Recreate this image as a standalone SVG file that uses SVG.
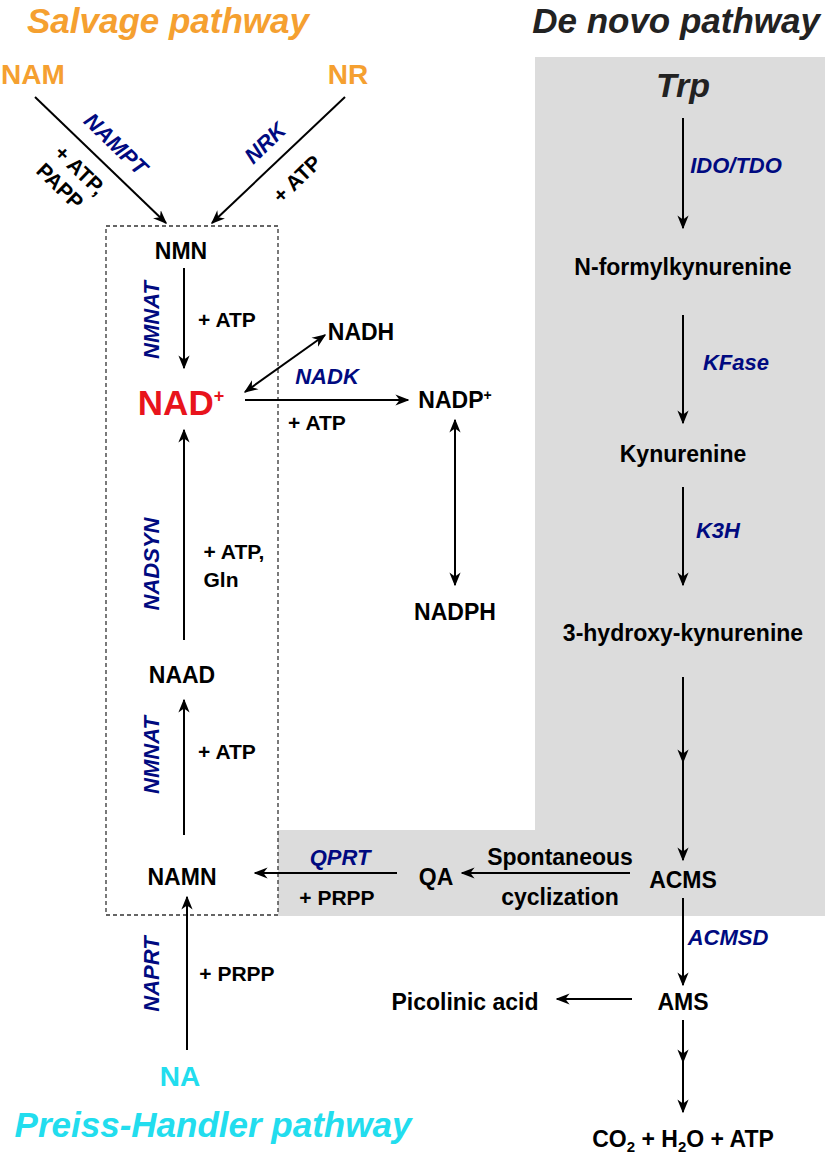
<svg xmlns="http://www.w3.org/2000/svg" width="825" height="1158" viewBox="0 0 825 1158">
<defs>
<marker id="a" viewBox="0 0 10 10" refX="9" refY="5" markerWidth="7" markerHeight="7" orient="auto-start-reverse"><path d="M0,1 L10,5 L0,9 L3,5 Z" fill="#000"/></marker>
<style>
text{font-family:"Liberation Sans",Arial,sans-serif;font-weight:bold;text-anchor:middle}
.m{font-size:23px;fill:#000}
.s{font-size:21px;fill:#000}
.e{font-size:22px;fill:#000a80;font-style:italic}
.t{font-size:35px;font-style:italic}
.l{stroke:#000;stroke-width:2;fill:none;marker-end:url(#a)}
.d{stroke:#000;stroke-width:2;fill:none;marker-end:url(#a);marker-start:url(#a)}
</style>
</defs>
<g id="bg">
<rect x="535" y="57" width="290" height="859" fill="#dcdcdc"/>
<rect x="278" y="830" width="260" height="86" fill="#dcdcdc"/>
<rect x="106" y="226" width="172" height="689" fill="none" stroke="#333" stroke-width="1.3" stroke-dasharray="4,3"/>
</g>
<g id="titles">
<text class="t" x="168" y="33" fill="#f5a030">Salvage pathway</text>
<text class="t" x="820" y="33" fill="#222" font-size="32" style="text-anchor:end">De novo pathway</text>
<text class="t" x="213" y="1137" fill="#22ddee">Preiss-Handler pathway</text>
</g>
<g id="connectors">
<line class="l" x1="35" y1="97" x2="166" y2="223"/>
<line class="l" x1="345" y1="97" x2="212" y2="223"/>
<line class="l" x1="184" y1="268" x2="184" y2="368"/>
<line class="l" x1="184" y1="640" x2="184" y2="430"/>
<line class="l" x1="184" y1="835" x2="184" y2="700"/>
<line class="l" x1="187" y1="1050" x2="187" y2="897"/>
<line class="d" x1="245" y1="392" x2="325" y2="335"/>
<line class="l" x1="245" y1="400" x2="408" y2="400"/>
<line class="d" x1="455" y1="420" x2="455" y2="585"/>
<line class="l" x1="683" y1="118" x2="683" y2="228"/>
<line class="l" x1="683" y1="315" x2="683" y2="423"/>
<line class="l" x1="683" y1="487" x2="683" y2="585"/>
<line class="l" x1="683" y1="677" x2="683" y2="762"/>
<line class="l" x1="683" y1="762" x2="683" y2="860"/>
<line class="l" x1="630" y1="873" x2="462" y2="873"/>
<line class="l" x1="397" y1="873" x2="255" y2="873"/>
<line class="l" x1="683" y1="898" x2="683" y2="985"/>
<line class="l" x1="632" y1="999" x2="557" y2="999"/>
<line class="l" x1="683" y1="1020" x2="683" y2="1062"/>
<line class="l" x1="683" y1="1062" x2="683" y2="1112"/>
</g>
<g id="nodes">
<text x="33" y="84" font-size="28" fill="#f5a030">NAM</text>
<text x="348" y="84" font-size="28" fill="#f5a030">NR</text>
<text class="m" x="181" y="259">NMN</text>
<text x="181" y="415" font-size="35" fill="#e8141c">NAD<tspan font-size="18" dy="-13">+</tspan></text>
<text class="m" x="361" y="340">NADH</text>
<text class="m" x="455" y="408">NADP<tspan font-size="14" dy="-8">+</tspan></text>
<text class="m" x="455" y="620">NADPH</text>
<text class="m" x="182" y="683">NAAD</text>
<text class="m" x="182" y="885">NAMN</text>
<text x="180" y="1086" font-size="28" fill="#22ddee">NA</text>
<text x="683" y="97" font-size="34" font-style="italic" fill="#222">Trp</text>
<text class="m" x="683" y="275">N-formylkynurenine</text>
<text class="m" x="683" y="462">Kynurenine</text>
<text class="m" x="683" y="641">3-hydroxy-kynurenine</text>
<text class="m" x="683" y="888">ACMS</text>
<text class="m" x="436" y="885">QA</text>
<text class="m" x="683" y="1010">AMS</text>
<text class="m" x="465" y="1010">Picolinic acid</text>
<text class="m" x="683" y="1147">CO<tspan font-size="15" dy="5">2</tspan><tspan dy="-5"> + H</tspan><tspan font-size="15" dy="5">2</tspan><tspan dy="-5">O + ATP</tspan></text>
</g>
<g id="labels">
<text class="e" dy="0.35em" transform="translate(116,144) rotate(44)">NAMPT</text>
<text class="s" dy="0.35em" transform="translate(80,170) rotate(44)">+ ATP,</text>
<text class="s" dy="0.35em" transform="translate(60,186) rotate(44)">PAPP</text>
<text class="e" dy="0.35em" transform="translate(265,143) rotate(-44)">NRK</text>
<text class="s" dy="0.35em" transform="translate(297,179) rotate(-44)">+ ATP</text>
<text class="e" transform="translate(159,320) rotate(-90)">NMNAT</text>
<text class="s" x="227" y="327">+ ATP</text>
<text class="e" x="327" y="384">NADK</text>
<text class="s" x="317" y="430">+ ATP</text>
<text class="e" transform="translate(159,564) rotate(-90)">NADSYN</text>
<text class="s" x="234" y="559">+ ATP,</text>
<text class="s" x="221" y="587">Gln</text>
<text class="e" transform="translate(159,755) rotate(-90)">NMNAT</text>
<text class="s" x="227" y="759">+ ATP</text>
<text class="e" transform="translate(159,974) rotate(-90)">NAPRT</text>
<text class="s" x="237" y="981">+ PRPP</text>
<text class="e" x="736" y="173">IDO/TDO</text>
<text class="e" x="736" y="370">KFase</text>
<text class="e" x="718" y="538">K3H</text>
<text class="e" x="728" y="945">ACMSD</text>
<text class="e" x="340" y="865">QPRT</text>
<text class="s" x="337" y="905">+ PRPP</text>
<text class="m" x="560" y="865">Spontaneous</text>
<text class="m" x="560" y="905">cyclization</text>
</g>
</svg>
